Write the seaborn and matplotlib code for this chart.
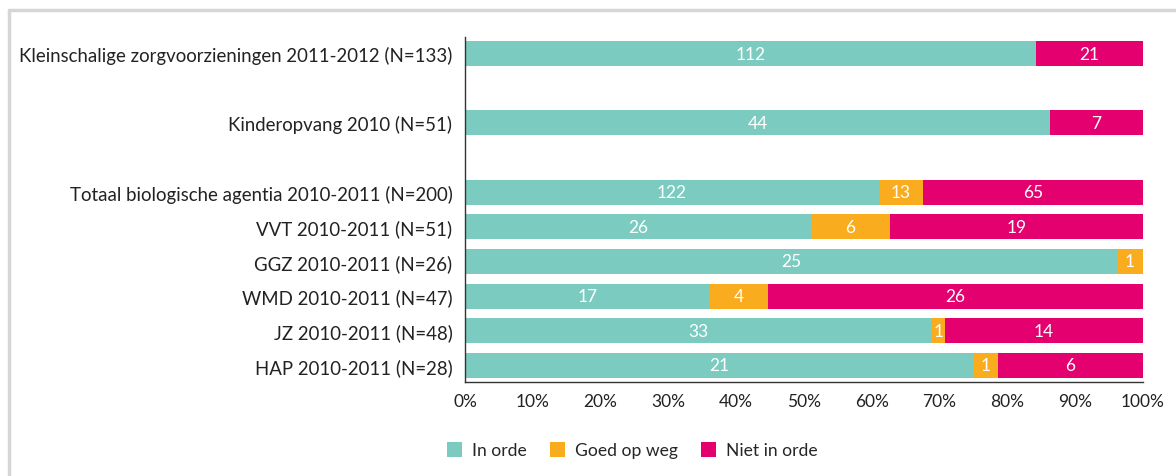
import matplotlib
matplotlib.use("Agg")
import matplotlib.pyplot as plt
import seaborn as sns
import numpy as np
import pandas as pd
from matplotlib.lines import Line2D
from matplotlib.patches import Patch

categories = [
    "Kleinschalige zorgvoorzieningen 2011-2012 (N=133)",
    "Kinderopvang 2010 (N=51)",
    "Totaal biologische agentia 2010-2011 (N=200)",
    "VVT 2010-2011 (N=51)",
    "GGZ 2010-2011 (N=26)",
    "WMD 2010-2011 (N=47)",
    "JZ 2010-2011 (N=48)",
    "HAP 2010-2011 (N=28)",
]
positions = [0, 2, 4, 5, 6, 7, 8, 9]
in_orde = [112, 44, 122, 26, 25, 17, 33, 21]
goed_op_weg = [0, 0, 13, 6, 1, 4, 1, 1]
niet_in_orde = [21, 7, 65, 19, 0, 26, 14, 6]
series_names = ["In orde", "Goed op weg", "Niet in orde"]
colors = ["#7BCBC0", "#F9AC1E", "#E4006F"]
xticks = [0, 10, 20, 30, 40, 50, 60, 70, 80, 90, 100]

sns.set_theme(style="white")
plt.rcParams["font.family"] = ["Lato", "DejaVu Sans"]

a = np.array(in_orde, float)
b = np.array(goed_op_weg, float)
c = np.array(niet_in_orde, float)
tot = a + b + c
pa = a / tot * 100
pb = b / tot * 100
pc = c / tot * 100

df = pd.DataFrame({
    "pos": positions,
    "cum1": pa,
    "cum2": pa + pb,
    "cum3": pa + pb + pc,
})

fig = plt.figure(figsize=(11.76, 4.77), dpi=100)
ax = fig.add_axes([465 / 1176, 1 - 383 / 477, (1143 - 465) / 1176, (383 - 38) / 477])

for col, colr in zip(["cum3", "cum2", "cum1"], [colors[2], colors[1], colors[0]]):
    sns.barplot(data=df, x=col, y="pos", orient="y", native_scale=True,
                color=colr, saturation=1, width=0.72, linewidth=0, ax=ax)

# segment labels
starts = [np.zeros_like(pa), pa, pa + pb]
vals = [a, b, c]
widths = [pa, pb, pc]
for s, v, w in zip(starts, vals, widths):
    for i, p in enumerate(positions):
        if v[i] > 0:
            ax.text(s[i] + w[i] / 2, p, f"{int(v[i])}", ha="center", va="center",
                    color="white", fontsize=12.5)

ax.set_xlim(0, 100)
ax.set_ylim(9.48, -0.48)
ax.set_xticks(xticks)
ax.set_xticklabels([f"{t}%" for t in xticks])
ax.set_yticks(positions)
ax.set_yticklabels(categories)
ax.set_xlabel("")
ax.set_ylabel("")
ax.tick_params(axis="x", length=0, pad=8, labelsize=12.5, labelcolor="#222222")
ax.tick_params(axis="y", length=0, pad=9, labelsize=13.4, labelcolor="#222222")
for side in ["top", "right"]:
    ax.spines[side].set_visible(False)
for side in ["left", "bottom"]:
    ax.spines[side].set_color("#333333")
    ax.spines[side].set_linewidth(1.0)

handles = [Patch(facecolor=colr, edgecolor="none") for colr in colors]
fig.legend(handles, series_names, loc="center left", bbox_to_anchor=(447 / 1176, 1 - 451 / 477),
           frameon=False, ncol=3, fontsize=12.6,
           handlelength=0.85, handleheight=0.95,
           handletextpad=0.6, columnspacing=1.3, borderpad=0, borderaxespad=0)

# outer frame lines
fig.add_artist(Line2D([8.5 / 1176, 1], [1 - 11 / 477, 1 - 11 / 477], transform=fig.transFigure,
                      color="#D6D6D6", linewidth=2.5))
fig.add_artist(Line2D([8.5 / 1176, 8.5 / 1176], [0, 1 - 11 / 477], transform=fig.transFigure,
                      color="#D6D6D6", linewidth=2.5))

fig.savefig("out.png", dpi=100)
